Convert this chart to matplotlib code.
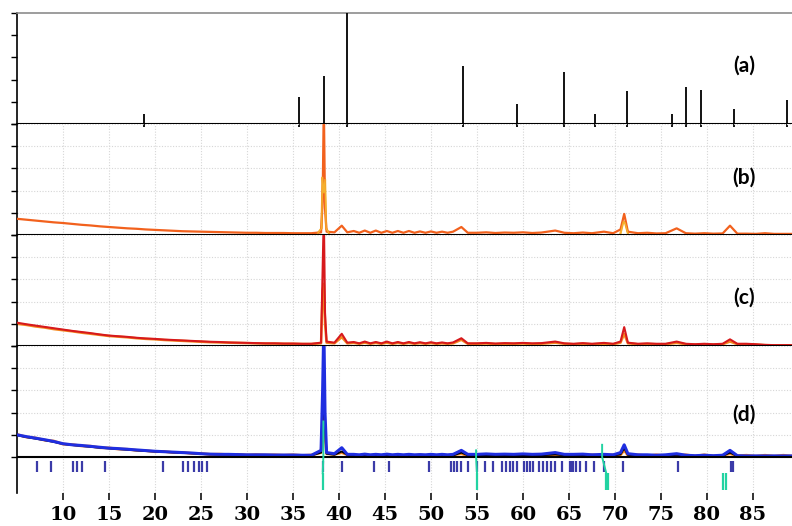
import matplotlib
matplotlib.use("Agg")
import matplotlib.pyplot as plt
import numpy as np

# ---- data (2-theta in degrees, intensity in grid units) ----
nan = float("nan")

# reference sticks, panel (a)
stick_pos = [18.8, 35.65, 38.37, 40.87, 53.5, 59.3, 64.5, 67.8, 71.3, 76.2, 77.75, 79.35, 82.9, 88.7]
stick_h = [0.45, 1.2, 2.15, 5.0, 2.6, 0.9, 2.35, 0.45, 1.5, 0.45, 1.65, 1.55, 0.68, 1.1]

# common 2-theta grid for the measured patterns
tt = [5, 6, 7, 8, 9, 10, 11, 12, 13, 14, 15, 16, 17, 18, 19, 20, 21, 22, 23, 24,
      25, 26, 27, 28, 29, 30, 31, 32, 33, 34, 35, 36, 37,
      38.05, 38.22, 38.35, 38.48, 38.65,
      39.5, 40.3, 40.9,
      41.6, 42.2, 42.8, 43.4, 44.0, 44.6, 45.2, 45.8, 46.4, 47.0, 47.6, 48.2, 48.8,
      49.4, 50.0, 50.6, 51.2, 51.8, 52.4,
      53.3, 54.0,
      55, 56, 57, 58, 59, 60, 61, 62,
      63.5, 64.5, 65.5, 66.5, 67.5,
      68.8, 69.8, 70.6, 71.0, 71.4,
      72.5, 73.5, 74.5, 75.5,
      76.7, 77.7, 78.7, 79.7, 80.7, 81.7,
      82.5, 83.3,
      84.3, 85.3, 86.3, 87.3, 88.3, 89.3]

# panel (b)
b_obs = [0.73, 0.69, 0.65, 0.61, 0.57, 0.54, 0.50, 0.46, 0.43, 0.39, 0.36, 0.33, 0.30, 0.28, 0.25, 0.23, 0.21, 0.19, 0.17, 0.16,
         0.15, 0.14, 0.13, 0.12, 0.11, 0.10, 0.10, 0.09, 0.09, 0.09, 0.08, 0.08, 0.08,
         0.12, 1.5, 6.0, 1.2, 0.15,
         0.12, 0.42, 0.12,
         0.18, 0.10, 0.20, 0.10, 0.20, 0.10, 0.18, 0.10, 0.18, 0.10, 0.18, 0.10, 0.16,
         0.10, 0.16, 0.10, 0.15, 0.10, 0.15,
         0.36, 0.10,
         0.10, 0.12, 0.09, 0.11, 0.10, 0.12, 0.09, 0.11,
         0.20, 0.10, 0.08, 0.11, 0.08,
         0.15, 0.08, 0.25, 0.95, 0.15,
         0.08, 0.10, 0.07, 0.08,
         0.30, 0.08, 0.06, 0.08, 0.06, 0.07,
         0.42, 0.06,
         0.06, 0.05, 0.08, 0.05, 0.05, 0.05]
b_yel_x = [37.7, 38.1, 38.22, 38.35, 38.48, 38.6, 38.9, nan, 70.6, 70.9, 71.1, 71.4]
b_yel_y = [0.08, 0.3, 2.6, 1.9, 2.5, 0.3, 0.08, nan, 0.08, 0.6, 0.55, 0.08]

# panel (c)
c_red = [1.05, 0.98, 0.92, 0.86, 0.80, 0.74, 0.68, 0.63, 0.58, 0.52, 0.47, 0.44, 0.41, 0.37, 0.34, 0.32, 0.29, 0.27, 0.25, 0.23,
         0.21, 0.19, 0.18, 0.16, 0.15, 0.14, 0.13, 0.12, 0.12, 0.11, 0.11, 0.10, 0.10,
         0.15, 3.4, 6.0, 1.5, 0.2,
         0.15, 0.55, 0.15,
         0.18, 0.12, 0.20, 0.12, 0.18, 0.12, 0.20, 0.12, 0.18, 0.12, 0.18, 0.12, 0.17,
         0.12, 0.17, 0.12, 0.16, 0.12, 0.16,
         0.35, 0.12,
         0.12, 0.14, 0.11, 0.13, 0.12, 0.14, 0.12, 0.13,
         0.20, 0.12, 0.10, 0.13, 0.10,
         0.14, 0.10, 0.20, 0.85, 0.15,
         0.10, 0.12, 0.10, 0.10,
         0.20, 0.10, 0.08, 0.10, 0.08, 0.10,
         0.30, 0.10,
         0.10, 0.08, 0.05, 0.04, 0.04, 0.04]
c_org = [1.00, 0.95, 0.88, 0.83, 0.76, 0.71, 0.66, 0.60, 0.55, 0.50, 0.45, 0.42, 0.39, 0.35, 0.32, 0.30, 0.27, 0.25, 0.23, 0.21,
         0.19, 0.17, 0.16, 0.15, 0.14, 0.13, 0.12, 0.11, 0.11, 0.10, 0.10, 0.09, 0.09,
         0.12, 2.5, 2.8, 1.0, 0.15,
         0.12, 0.40, 0.12,
         0.14, 0.10, 0.15, 0.10, 0.14, 0.10, 0.15, 0.10, 0.14, 0.10, 0.14, 0.10, 0.13,
         0.10, 0.13, 0.10, 0.12, 0.10, 0.12,
         0.28, 0.10,
         0.10, 0.11, 0.09, 0.10, 0.10, 0.11, 0.09, 0.10,
         0.15, 0.10, 0.08, 0.10, 0.08,
         0.10, 0.08, 0.15, 0.55, 0.12,
         0.08, 0.09, 0.08, 0.08,
         0.14, 0.08, 0.06, 0.08, 0.06, 0.08,
         0.20, 0.08,
         0.08, 0.06, 0.04, 0.03, 0.03, 0.03]

# panel (d)
d_blue = [1.00, 0.92, 0.85, 0.78, 0.70, 0.60, 0.55, 0.52, 0.48, 0.44, 0.40, 0.38, 0.35, 0.32, 0.29, 0.26, 0.24, 0.22, 0.20, 0.18,
          0.15, 0.13, 0.12, 0.12, 0.11, 0.10, 0.10, 0.10, 0.09, 0.09, 0.09, 0.08, 0.08,
          0.30, 3.0, 6.0, 2.0, 0.20,
          0.15, 0.42, 0.12,
          0.12, 0.10, 0.13, 0.10, 0.12, 0.10, 0.13, 0.10, 0.12, 0.10, 0.12, 0.10, 0.11,
          0.10, 0.12, 0.10, 0.12, 0.10, 0.12,
          0.30, 0.12,
          0.12, 0.14, 0.12, 0.13, 0.12, 0.14, 0.12, 0.13,
          0.20, 0.12, 0.12, 0.13, 0.10,
          0.12, 0.10, 0.20, 0.55, 0.15,
          0.10, 0.10, 0.08, 0.10,
          0.15, 0.08, 0.06, 0.08, 0.06, 0.08,
          0.30, 0.06,
          0.05, 0.05, 0.05, 0.05, 0.05, 0.05]
d_black = [0.98, 0.90, 0.83, 0.76, 0.68, 0.59, 0.54, 0.50, 0.46, 0.42, 0.39, 0.36, 0.33, 0.30, 0.27, 0.25, 0.23, 0.21, 0.19, 0.17,
           0.14, 0.12, 0.11, 0.11, 0.10, 0.09, 0.09, 0.09, 0.08, 0.08, 0.08, 0.07, 0.07,
           0.20, 2.0, 2.7, 1.2, 0.15,
           0.10, 0.25, 0.10,
           0.08, 0.07, 0.08, 0.07, 0.08, 0.07, 0.08, 0.07, 0.08, 0.07, 0.08, 0.07, 0.07,
           0.07, 0.07, 0.07, 0.07, 0.07, 0.07,
           0.20, 0.08,
           0.08, 0.08, 0.08, 0.08, 0.08, 0.08, 0.08, 0.08,
           0.12, 0.08, 0.08, 0.08, 0.07,
           0.08, 0.07, 0.12, 0.40, 0.10,
           0.06, 0.06, 0.05, 0.05,
           0.10, 0.05, 0.04, 0.05, 0.04, 0.05,
           0.20, 0.04,
           0.03, 0.03, 0.03, 0.03, 0.03, 0.03]
d_org = [1.02, 0.90, 0.86, 0.76, 0.72, 0.58, 0.56, 0.50, 0.49, 0.42, 0.41, 0.36, 0.35, 0.30, 0.29, 0.24, 0.25, 0.20, 0.21, 0.16,
         0.16, 0.12, 0.13, 0.11, 0.12, 0.09, 0.11, 0.09, 0.10, 0.08, 0.10, 0.07, 0.09,
         0.20, 1.5, 2.0, 0.9, 0.15,
         0.12, 0.20, 0.10,
         0.10, 0.06, 0.10, 0.06, 0.10, 0.06, 0.10, 0.06, 0.10, 0.06, 0.10, 0.06, 0.10,
         0.06, 0.10, 0.06, 0.10, 0.06, 0.10,
         0.15, 0.06,
         0.10, 0.06, 0.10, 0.06, 0.10, 0.06, 0.10, 0.06,
         0.10, 0.06, 0.10, 0.06, 0.10,
         0.06, 0.10, 0.10, 0.30, 0.08,
         0.10, 0.05, 0.10, 0.05,
         0.08, 0.10, 0.04, 0.10, 0.04, 0.08,
         0.15, 0.06,
         0.08, 0.04, 0.08, 0.04, 0.08, 0.04]

# second phase (teal) spikes and reflection markers
teal_pk_x = [38.3, 54.9, 68.6]
teal_pk_y = [1.6, 0.3, 0.55]
teal_tk_x = [38.23, 55.0, 69.05]
blue_ticks = [7.14, 8.66, 11.05, 11.55, 12.03, 14.57, 20.84, 23.01, 23.55, 24.24, 24.78, 25.08, 25.62,
              38.23, 40.29, 43.8, 45.47, 49.78, 52.14, 52.5, 52.86, 53.23, 54.05, 54.95, 55.87, 56.71,
              57.68, 58.15, 58.59, 58.95, 59.32, 60.11, 60.4, 60.76, 61.12, 61.77, 62.14, 62.58, 63.01,
              63.48, 64.21, 65.11, 65.29, 65.47, 65.76, 66.2, 66.85, 67.7, 68.8, 70.9, 76.88, 82.58, 82.79]
teal_ticks = [38.23, 55.0, 69.05, 69.2, 81.77, 82.07]

panel_labels = ["(a)", "(b)", "(c)", "(d)"]
x_ticks = [10, 15, 20, 25, 30, 35, 40, 45, 50, 55, 60, 65, 70, 75, 80, 85]

# ---- layout ----
W, H = 792, 526
fig = plt.figure(figsize=(W / 100, H / 100), dpi=100)

def box(top, bottom, left=17, right=792):
    return [left / W, (H - bottom) / H, (right - left) / W, (bottom - top) / H]

ax_a = fig.add_axes(box(13, 124))
ax_b = fig.add_axes(box(124, 235))
ax_c = fig.add_axes(box(235, 346))
ax_d = fig.add_axes(box(346, 493))
axes = [ax_a, ax_b, ax_c, ax_d]

XMIN, XMAX = 5, 5 + 775 / 9.2
grid_kw = dict(color="#d6d6d6", lw=0.8, ls=(0, (1, 1.5)))

for ax in axes:
    ax.set_xlim(XMIN, XMAX)
    ax.set_ylim(0, 5)
    ax.set_yticks([0, 1, 2, 3, 4, 5])
    ax.set_yticklabels([])
    ax.set_xticks(x_ticks)
    ax.tick_params(axis="y", direction="out", length=4, width=1, color="black")
    ax.tick_params(axis="x", length=0, labelbottom=False)
    ax.spines["right"].set_visible(False)
    ax.spines["top"].set_visible(False)
    ax.spines["left"].set_color("black")
    ax.spines["left"].set_linewidth(1.2)
    ax.spines["bottom"].set_visible(False)
    ax.patch.set_alpha(0)

for ax in [ax_b, ax_c, ax_d]:
    ax.grid(True, **grid_kw)
    ax.set_axisbelow(True)

ax_d.set_ylim(-1.62, 5)

# top frame line of panel (a)
ax_a.spines["top"].set_visible(True)
ax_a.spines["top"].set_color("#8c8c8c")
ax_a.spines["top"].set_linewidth(1.2)

# (a) reference sticks
ax_a.vlines(stick_pos, -0.15, stick_h, color="black", lw=1.3, clip_on=False, zorder=3)
ax_a.axhline(0, color="black", lw=1.5, zorder=4)

# (b)
ax_b.plot(b_yel_x, b_yel_y, color="#f5b02e", lw=1.6, zorder=2)
ax_b.plot(tt, b_obs, color="#f2611d", lw=1.6, zorder=3)
ax_b.plot(b_yel_x, b_yel_y, color="#f5b02e", lw=1.0, zorder=4)
ax_b.axhline(0, color="black", lw=1.5, zorder=5)

# (c)
ax_c.plot(tt, c_org, color="#f58a1f", lw=1.8, zorder=2)
ax_c.plot(tt, c_red, color="#d7191c", lw=1.5, zorder=3)
ax_c.axhline(0, color="black", lw=1.5, zorder=5)

# (d)
ax_d.plot(tt, d_org, color="#f58220", lw=2.0, zorder=2)
ax_d.plot(tt, d_black, color="black", lw=1.4, zorder=3)
ax_d.plot(tt, d_blue, color="#1f2ee0", lw=2.2, zorder=4)
ax_d.axhline(0, color="black", lw=1.5, zorder=5)
ax_d.vlines(blue_ticks, -0.68, -0.18, color="#3b3ba8", lw=1.6, zorder=3)
ax_d.vlines(teal_ticks, -1.5, -0.73, color="#22d3a2", lw=1.6, zorder=3)
for xp, yp, xt in zip(teal_pk_x, teal_pk_y, teal_tk_x):
    ax_d.plot([xp, xp, xt], [yp, 0, -0.73], color="#22d3a2", lw=1.4, zorder=6)

# bottom axis ticks and labels
ax_d.tick_params(axis="x", direction="out", length=5, width=1.4, color="#333333",
                 labelbottom=True, pad=4)
for lab in ax_d.get_xticklabels():
    lab.set_fontfamily("DejaVu Serif")
    lab.set_fontweight("bold")
    lab.set_fontsize(14)

# panel letters
label_y = [66, 178, 298, 415]
for lab, yp in zip(panel_labels, label_y):
    fig.text(744 / W, (H - yp) / H, lab, ha="center", va="center",
             fontsize=15, fontweight="bold", family=["Lato", "DejaVu Sans"])

fig.savefig("out.png", dpi=100)
